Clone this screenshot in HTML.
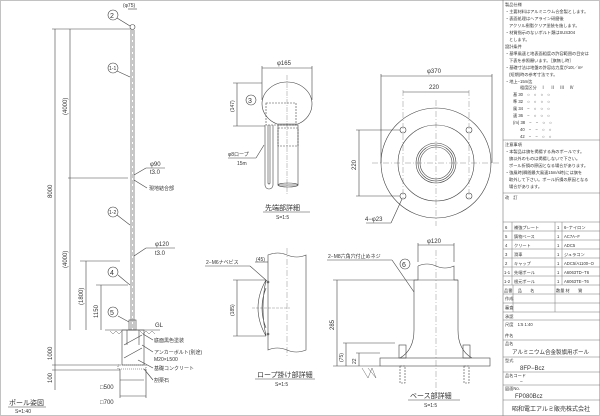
<!DOCTYPE html>
<html><head><meta charset="utf-8"><style>
html,body{margin:0;padding:0;background:#fff}
svg{display:block}
text{font-family:"Liberation Sans","Noto Sans CJK JP",sans-serif;fill:#333}
.s{font-size:5px}.m{font-size:6px}.l{font-size:7px}
</style></head><body>
<svg width="600" height="416" viewBox="0 0 600 416" xmlns="http://www.w3.org/2000/svg" stroke="#444" stroke-width="0.6" fill="none">
<rect x="0.5" y="0.5" width="599" height="415" stroke="#999"/>
<line x1="503" y1="0" x2="503" y2="416" stroke="#777"/>

<line x1="131" y1="30" x2="131" y2="330"/><line x1="134" y1="30" x2="134" y2="330"/>
<line x1="132.5" y1="30" x2="132.5" y2="330" stroke-dasharray="4 2" stroke-width="0.3"/>
<circle cx="132.5" cy="27" r="2.5"/>
<circle cx="113" cy="15" r="5"/><text x="110" y="18" class="l" stroke="none">2</text>
<line x1="117" y1="18" x2="130" y2="26"/>
<text x="123" y="7" class="s" stroke="none">(φ75)</text>
<line x1="128" y1="9" x2="137" y2="9"/>
<line x1="52" y1="29" x2="131" y2="29"/>
<line x1="55" y1="29" x2="55" y2="330"/>
<line x1="70" y1="29" x2="70" y2="330"/>
<line x1="68" y1="178" x2="128" y2="178"/>
<line x1="80" y1="261" x2="120" y2="261"/><line x1="86" y1="261" x2="86" y2="330"/>
<line x1="96" y1="285" x2="128" y2="285"/><line x1="101" y1="285" x2="101" y2="330"/>
<text transform="translate(52,198) rotate(-90)" class="m" stroke="none">8000</text>
<text transform="translate(67,115) rotate(-90)" class="m" stroke="none">(4000)</text>
<text transform="translate(67,268) rotate(-90)" class="m" stroke="none">(4000)</text>
<text transform="translate(83,305) rotate(-90)" class="m" stroke="none">(1800)</text>
<text transform="translate(98,318) rotate(-90)" class="m" stroke="none">1150</text>
<text transform="translate(52,360) rotate(-90)" class="m" stroke="none">1000</text>
<text transform="translate(52,383) rotate(-90)" class="m" stroke="none">100</text>
<line x1="52" y1="365" x2="120" y2="365"/><line x1="52" y1="370" x2="120" y2="370"/>
<line x1="55" y1="330" x2="55" y2="390"/>
<circle cx="113" cy="68" r="5"/><text x="109" y="70" class="s" stroke="none">1-1</text>
<line x1="117" y1="71" x2="130" y2="77"/>
<circle cx="113" cy="212" r="5"/><text x="109" y="214" class="s" stroke="none">1-2</text>
<line x1="117" y1="215" x2="130" y2="225"/>
<line x1="134" y1="175" x2="146" y2="168"/><line x1="146" y1="168" x2="165" y2="168"/>
<text x="150" y="166" class="m" stroke="none">φ90</text><text x="150" y="174" class="m" stroke="none">t3.0</text>
<line x1="134" y1="180" x2="147" y2="188"/><text x="149" y="190" class="s" stroke="none">現地結合部</text>
<line x1="134" y1="256" x2="146" y2="248"/><line x1="146" y1="248" x2="175" y2="248"/>
<text x="155" y="246" class="m" stroke="none">φ120</text><text x="155" y="255" class="m" stroke="none">t3.0</text>
<circle cx="113" cy="272" r="5"/><text x="110" y="275" class="l" stroke="none">4</text>
<line x1="118" y1="275" x2="130" y2="285"/>
<circle cx="113" cy="312" r="5"/><text x="110" y="315" class="l" stroke="none">5</text>
<line x1="118" y1="316" x2="129" y2="322"/>
<rect x="129" y="320" width="7" height="10"/>
<line x1="105" y1="330" x2="160" y2="330"/>
<text x="155" y="327" class="m" stroke="none">GL</text>
<path d="M110 331 l3 3 l3 -3 l3 3 l3 -3 M140 331 l3 3 l3 -3 l3 3 l3 -3 l3 3" stroke-width="0.4"/>
<rect x="122" y="330" width="22" height="35"/>
<line x1="124" y1="358" x2="142" y2="348"/><line x1="124" y1="345" x2="142" y2="335"/>
<line x1="127" y1="330" x2="127" y2="345"/><line x1="139" y1="330" x2="139" y2="345"/>
<rect x="118" y="365" width="28" height="4" stroke-dasharray="1 1"/>
<line x1="120" y1="380" x2="144" y2="380"/><line x1="120" y1="396" x2="146" y2="396"/>
<line x1="120" y1="369" x2="120" y2="398"/><line x1="146" y1="369" x2="146" y2="398"/>
<text x="100" y="389" class="m" stroke="none">□500</text>
<text x="100" y="404" class="m" stroke="none">□700</text>
<line x1="143" y1="334" x2="153" y2="340"/><text x="154" y="342" class="s" stroke="none">底面黒色塗装</text>
<line x1="142" y1="345" x2="153" y2="352"/><text x="154" y="354" class="s" stroke="none">アンカーボルト(別途)</text>
<text x="154" y="361" class="s" stroke="none">M20×L500</text>
<line x1="138" y1="360" x2="153" y2="368"/><text x="154" y="370" class="s" stroke="none">基礎コンクリート</text>
<line x1="144" y1="369" x2="153" y2="380"/><text x="154" y="382" class="s" stroke="none">割栗石</text>
<text x="9" y="405" class="l" stroke="none">ポール姿図</text><line x1="8" y1="407" x2="46" y2="407"/>
<text x="15" y="413" class="s" stroke="none">S=1:40</text>

<path d="M262 104 A25 22 0 1 1 312 104 A25 22 0 0 1 298 124 L277 124 A25 22 0 0 1 262 104Z"/>
<rect x="266" y="103" width="30" height="22" stroke-dasharray="2 1"/>
<rect x="278" y="125" width="20" height="60"/>
<rect x="278" y="128" width="20" height="18" stroke-dasharray="2 1"/>
<ellipse cx="288" cy="185" rx="10" ry="2"/>
<path d="M265 125 V185 a3 3 0 0 0 8 0 V125 M268 125 V183 a1 1 0 0 0 2 0 V125"/>
<line x1="287" y1="75" x2="287" y2="195" stroke-dasharray="5 1 1 1" stroke-width="0.3"/>
<circle cx="251" cy="100" r="5"/><text x="248" y="103" class="l" stroke="none">3</text>
<line x1="262" y1="68" x2="312" y2="68"/><line x1="262" y1="66" x2="262" y2="100"/><line x1="312" y1="66" x2="312" y2="100"/>
<text x="277" y="65" class="m" stroke="none">φ165</text>
<line x1="233" y1="83" x2="262" y2="83"/><line x1="233" y1="126" x2="265" y2="126"/><line x1="237" y1="83" x2="237" y2="126"/>
<text transform="translate(234,112) rotate(-90)" class="s" stroke="none">(147)</text>
<line x1="228" y1="158" x2="256" y2="158"/><line x1="256" y1="158" x2="264" y2="145"/>
<text x="228" y="156" class="s" stroke="none">φ8ロープ</text><text x="237" y="165" class="s" stroke="none">15m</text>
<text x="265" y="210" class="l" stroke="none">先端部詳細</text><line x1="263" y1="212" x2="310" y2="212"/>
<text x="276" y="219" class="s" stroke="none">S=1:5</text>

<circle cx="436" cy="163" r="55"/><circle cx="436" cy="163" r="38"/>
<circle cx="436" cy="163" r="20"/><circle cx="436" cy="163" r="18"/><circle cx="436" cy="163" r="16"/>
<circle cx="403" cy="130" r="3"/><circle cx="469" cy="130" r="3"/><circle cx="403" cy="196" r="3"/><circle cx="469" cy="196" r="3"/>
<line x1="436" y1="100" x2="436" y2="226" stroke-dasharray="6 2 1 2" stroke-width="0.3"/>
<line x1="372" y1="163" x2="500" y2="163" stroke-dasharray="6 2 1 2" stroke-width="0.3"/>
<line x1="403" y1="90" x2="403" y2="200" stroke-dasharray="6 2 1 2" stroke-width="0.3"/>
<line x1="469" y1="90" x2="469" y2="200" stroke-dasharray="6 2 1 2" stroke-width="0.3"/>
<line x1="381" y1="76" x2="492" y2="76"/><line x1="381" y1="74" x2="381" y2="163"/><line x1="492" y1="74" x2="492" y2="163"/>
<text x="427" y="73" class="m" stroke="none">φ370</text>
<line x1="403" y1="92" x2="469" y2="92"/><text x="429" y="89" class="m" stroke="none">220</text>
<line x1="356" y1="130" x2="400" y2="130"/><line x1="356" y1="196" x2="400" y2="196"/><line x1="359" y1="130" x2="359" y2="196"/>
<text transform="translate(356,170) rotate(-90)" class="m" stroke="none">220</text>
<line x1="366" y1="223" x2="391" y2="223"/><line x1="391" y1="223" x2="402" y2="199"/>
<text x="365" y="221" class="m" stroke="none">4−φ23</text>

<path d="M268 255 q10 -4 19 0 q10 4 19 0 V350 q-10 4 -19 0 q-10 -4 -19 0Z"/>
<line x1="287" y1="248" x2="287" y2="358" stroke-dasharray="6 2 1 2" stroke-width="0.3"/>
<path d="M266 280 q-16 28 0 56 q-6 -28 0 -56Z M266 288 q-8 20 0 40"/>
<line x1="252" y1="308" x2="290" y2="308" stroke-dasharray="3 1" stroke-width="0.3"/>
<circle cx="268" cy="282" r="1" /><circle cx="268" cy="334" r="1"/>
<line x1="205" y1="266" x2="250" y2="266"/><line x1="250" y1="266" x2="267" y2="281"/>
<text x="206" y="264" class="s" stroke="none">2−M6ナベビス</text>
<line x1="255" y1="262" x2="268" y2="262"/><text x="256" y="261" class="s" stroke="none">(45)</text>
<line x1="233" y1="280" x2="266" y2="280"/><line x1="233" y1="336" x2="266" y2="336"/><line x1="237" y1="280" x2="237" y2="336"/>
<text transform="translate(234,316) rotate(-90)" class="s" stroke="none">(185)</text>
<text x="257" y="377" class="l" stroke="none">ロープ掛け部詳細</text><line x1="255" y1="379" x2="315" y2="379"/>
<text x="275" y="386" class="s" stroke="none">S=1:5</text>

<path d="M418 266 q9 -4 18 0 q9 4 18 0 V280 H458 V330 q0 20 14 28 M418 266 V280 H414 V330 q0 20 -14 28"/>
<line x1="414" y1="280" x2="458" y2="280"/>
<rect x="380" y="358" width="110" height="8"/>
<line x1="436" y1="250" x2="436" y2="395" stroke-dasharray="6 2 1 2" stroke-width="0.3"/>
<rect x="399" y="345" width="7" height="13"/><rect x="463" y="345" width="7" height="13"/>
<rect x="400" y="366" width="5" height="17" stroke-dasharray="2 1"/><rect x="464" y="366" width="5" height="17" stroke-dasharray="2 1"/>
<line x1="418" y1="245" x2="454" y2="245"/><line x1="418" y1="243" x2="418" y2="262"/><line x1="454" y1="243" x2="454" y2="262"/>
<text x="427" y="243" class="m" stroke="none">φ120</text>
<line x1="327" y1="260" x2="392" y2="260"/><line x1="392" y1="260" x2="414" y2="292"/>
<text x="328" y="258" class="s" stroke="none">2−M8六角穴付止めネジ</text>
<circle cx="405" cy="264" r="5"/><text x="402" y="267" class="l" stroke="none">6</text>
<line x1="333" y1="280" x2="414" y2="280"/><line x1="337" y1="280" x2="337" y2="366"/>
<line x1="333" y1="366" x2="380" y2="366"/><line x1="343" y1="343" x2="395" y2="343"/>
<line x1="346" y1="343" x2="346" y2="366"/><line x1="356" y1="353" x2="380" y2="353"/><line x1="359" y1="353" x2="359" y2="366"/>
<text transform="translate(334,330) rotate(-90)" class="m" stroke="none">285</text>
<text transform="translate(343,362) rotate(-90)" class="s" stroke="none">(75)</text>
<text transform="translate(356,364) rotate(-90)" class="s" stroke="none">22</text>
<path d="M362 368 l6 10 l4 -10 l4 10 M368 368 l8 10" stroke-width="0.4"/>
<text x="410" y="398" class="l" stroke="none">ベース部詳細</text><line x1="408" y1="400" x2="460" y2="400"/>
<text x="424" y="407" class="s" stroke="none">S=1:5</text>

<g stroke="#777" stroke-width="0.5">
<line x1="503" y1="140" x2="600" y2="140"/>
<line x1="503" y1="193" x2="600" y2="193"/>
<line x1="503" y1="222" x2="600" y2="222"/>
<line x1="503" y1="231" x2="600" y2="231"/><line x1="503" y1="240" x2="600" y2="240"/>
<line x1="503" y1="249" x2="600" y2="249"/><line x1="503" y1="258" x2="600" y2="258"/>
<line x1="503" y1="267" x2="600" y2="267"/><line x1="503" y1="276" x2="600" y2="276"/>
<line x1="503" y1="285" x2="600" y2="285"/><line x1="503" y1="294" x2="600" y2="294"/>
<line x1="503" y1="303" x2="600" y2="303"/><line x1="503" y1="312" x2="600" y2="312"/>
<line x1="503" y1="320" x2="600" y2="320"/><line x1="503" y1="340" x2="600" y2="340"/>
<line x1="503" y1="357" x2="600" y2="357"/><line x1="503" y1="372" x2="600" y2="372"/>
<line x1="503" y1="385" x2="600" y2="385"/><line x1="503" y1="400" x2="600" y2="400"/>
<line x1="512" y1="222" x2="512" y2="285"/><line x1="555" y1="222" x2="555" y2="285"/><line x1="562" y1="222" x2="562" y2="285"/>
<line x1="513" y1="285" x2="513" y2="312"/><line x1="555" y1="285" x2="555" y2="312"/>
</g>
<g stroke="none" font-size="4.2">
<text x="505" y="6">製品仕様</text>
<text x="505" y="13">・主要材料はアルミニウム合金製とします。</text>
<text x="505" y="20">・表面処理はヘアライン研磨後</text>
<text x="509" y="27">アクリル樹脂クリア塗装を施します。</text>
<text x="505" y="34">・材質指示のないボルト類はSUS304</text>
<text x="509" y="41">とします。</text>
<text x="505" y="48">設計条件</text>
<text x="505" y="55">・基準風速と地表面粗度の許容範囲の目安は</text>
<text x="509" y="62">下表を参照願います。［旗無し時］</text>
<text x="505" y="69">・基礎寸法は地盤の許容応力度が10t／m²</text>
<text x="509" y="76">(短期)時の参考寸法です。</text>
<text x="505" y="83">・地上−15m迄</text>
<text x="520" y="89">粗度区分　Ⅰ　 Ⅱ　 Ⅲ　 Ⅳ</text>
<text x="513" y="96">基 30　○　○　○　○</text>
<text x="513" y="103">準 32　○　○　○　○</text>
<text x="513" y="110">風 34　−　○　○　○</text>
<text x="513" y="117">速 36　−　○　○　○</text>
<text x="513" y="124">(m) 38　−　−　○　○</text>
<text x="520" y="131">40　−　−　○　○</text>
<text x="520" y="138">42　−　−　○　○</text>
<text x="505" y="146">注意事項</text>
<text x="505" y="153">・本製品は旗を掲揚する為のポールです。</text>
<text x="509" y="160">旗以外のものは掲揚しないで下さい。</text>
<text x="509" y="167">ポール折損の原因となる場合があります。</text>
<text x="505" y="174">・強風時(瞬間最大風速15m/s時)には旗を</text>
<text x="509" y="181">取外して下さい。ポール折損の原因となる</text>
<text x="509" y="188">場合があります。</text>
<text x="505" y="199">改　訂</text>
<text x="505" y="229">6</text><text x="514" y="229">補強プレート</text><text x="557" y="229">1</text><text x="564" y="229">6−ナイロン</text>
<text x="505" y="238">5</text><text x="514" y="238">鋳物ベース</text><text x="557" y="238">1</text><text x="564" y="238">AC7A−F</text>
<text x="505" y="247">4</text><text x="514" y="247">クリート</text><text x="557" y="247">1</text><text x="564" y="247">ADC5</text>
<text x="505" y="256">3</text><text x="514" y="256">滑車</text><text x="557" y="256">1</text><text x="564" y="256">ジュラコン</text>
<text x="505" y="265">2</text><text x="514" y="265">キャップ</text><text x="557" y="265">1</text><text x="564" y="265">ADC5/A1100−O</text>
<text x="504" y="274">1-1</text><text x="514" y="274">先端ポール</text><text x="557" y="274">1</text><text x="564" y="274">A6063TD−T6</text>
<text x="504" y="283">1-2</text><text x="514" y="283">根元ポール</text><text x="557" y="283">1</text><text x="564" y="283">A6063TE−T6</text>
<text x="504" y="292">品番　 品　　名</text><text x="556" y="292">数量 材　　質</text>
<text x="505" y="300">作成</text><text x="505" y="309">審査</text><text x="505" y="318">承認</text>
<text x="505" y="326">尺度　1:5  1:40</text>
<text x="505" y="337">件名</text>
<text x="505" y="345">品名</text>
</g>
<g stroke="none">
<text x="512" y="354" font-size="5.5">アルミニウム合金製旗用ポール</text>
<text x="505" y="362" font-size="4.2">型式</text>
<text x="520" y="370" font-size="6">8FP−Bcz</text>
<text x="505" y="377" font-size="4.2">品名コード</text>
<text x="520" y="383" font-size="5">−</text>
<text x="505" y="390" font-size="4.2">図面No.</text>
<text x="515" y="398" font-size="6">FP080Bcz</text>
<text x="512" y="411" font-size="6">昭和電工アルミ販売株式会社</text>
</g>
</svg>
</body></html>
